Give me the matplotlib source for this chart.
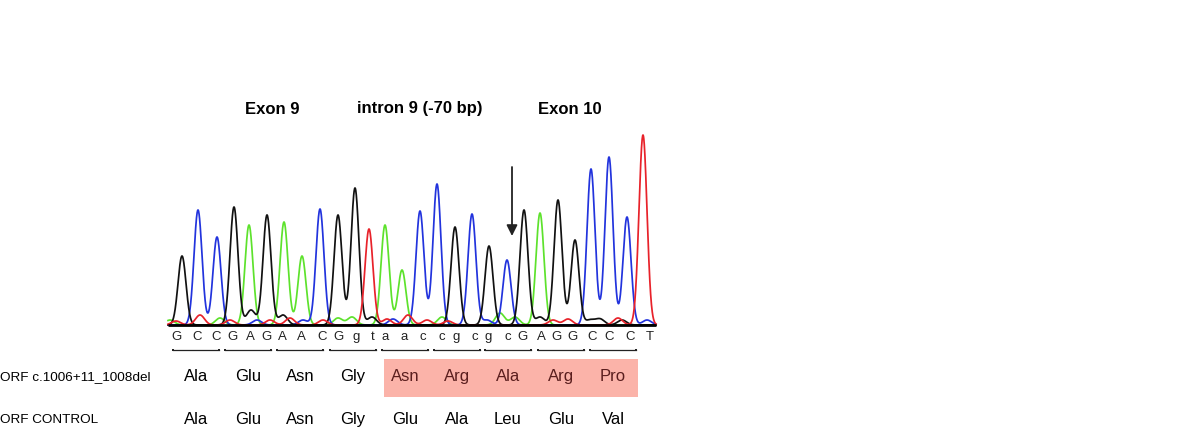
import numpy as np
import matplotlib
matplotlib.use("Agg")
import matplotlib.pyplot as plt
from matplotlib.patches import Rectangle

plt.rcParams['font.family'] = ['Liberation Sans', 'DejaVu Sans']

### chromatogram data (scan position, peak height) ###
bases = list("GCCGAGAACGgtaaccgcgcGAGGCCCT")
peak_pos = [182, 198, 217, 234, 249, 267, 284, 302, 320, 338, 355, 369, 385, 402,
            420, 437, 455, 472, 489, 507, 524, 540, 558, 575, 591, 609, 627, 643]
peak_h = [69, 115, 88, 118, 100, 110, 103, 69, 116, 110, 137, 96, 100, 55,
          114, 141, 98, 111, 79, 65, 115, 112, 125, 85, 156, 168, 108, 190]
# where the base letters sit under the trace
call_pos = [177, 197, 216, 233, 250, 267, 282, 301, 322, 338, 356, 373, 385, 404,
            423, 442, 456, 475, 488, 508, 523, 541, 556, 573, 592, 609, 630, 650]

# small background bumps: (base, position, height)
minor_peaks = [("T", 200, 10), ("A", 220, 7), ("T", 230, 5), ("G", 251, 15),
               ("C", 257, 5), ("T", 270, 5), ("G", 283, 10), ("T", 290, 7),
               ("C", 303, 5), ("T", 323, 5), ("A", 338, 7), ("A", 352, 8),
               ("G", 372, 8), ("T", 387, 6), ("C", 393, 6), ("T", 408, 10),
               ("T", 427, 5), ("A", 442, 8), ("T", 448, 4), ("C", 487, 5),
               ("A", 500, 12), ("A", 515, 8), ("G", 540, 8), ("T", 553, 5),
               ("T", 568, 6), ("G", 590, 5), ("G", 600, 6), ("T", 618, 7),
               ("G", 622, 5), ("C", 647, 5), ("A", 170, 5), ("T", 176, 4)]

# codon brackets (left edge in scan units)
codon_left = [173, 225, 277, 330, 382, 434, 485, 538, 590]
codon_width = 46

mutant_aa = ["Ala", "Glu", "Asn", "Gly", "Asn", "Arg", "Ala", "Arg", "Pro"]
control_aa = ["Ala", "Glu", "Asn", "Gly", "Glu", "Ala", "Leu", "Glu", "Val"]
region_labels = ["Exon 9", "intron 9 (-70 bp)", "Exon 10"]
region_x = [272, 420, 570]
arrow_x = 512

colors = {"G": "#111111", "C": "#2233dd", "A": "#5de22c", "T": "#e8222a"}
box_color = "#fbb3a9"
box_text = "#5a1e1e"

scan_start, scan_end = 168, 656

fig = plt.figure(figsize=(12, 4.31), dpi=100)
ax = fig.add_axes([0, 0, 1, 1])
ax.set_xlim(0, 1200)
ax.set_ylim(-105, 326)
ax.axis('off')

x = np.linspace(scan_start, scan_end, 3000)
for b in ["A", "C", "G", "T"]:
    y = np.zeros_like(x)
    for bb, p, h in zip(bases, peak_pos, peak_h):
        if bb.upper() == b:
            y += h * np.exp(-(x - p) ** 2 / (2 * 4.0 ** 2))
    for bb, p, h in minor_peaks:
        if bb == b:
            y += h * np.exp(-(x - p) ** 2 / (2 * 4.5 ** 2))
    ax.plot(x, y, color=colors[b], lw=1.25, zorder=2)

ax.hlines(0, scan_start, scan_end, color="black", lw=2, zorder=3)

# base calls
for b, p in zip(bases, call_pos):
    ax.text(p, -11, b, ha="center", va="center", fontsize=9.5, color="#222222")

# codon brackets and translations
mutated = [m != c for m, c in zip(mutant_aa, control_aa)]
for i in range(len(mutant_aa)):
    x0 = codon_left[i]
    x1 = x0 + codon_width
    ax.plot([x0, x1], [-25, -25], color="#222222", lw=0.9)
    ax.plot([x0, x1], [-25, -25], "s", color="#222222", ms=2, mew=0)
    xc = (x0 + x1) / 2
    ax.text(xc, -51, mutant_aa[i], ha="center", va="center", fontsize=12,
            color=box_text if mutated[i] else "black", zorder=4)
    ax.text(xc, -94, control_aa[i], ha="center", va="center", fontsize=12)

first_mut = mutated.index(True)
bx0 = codon_left[first_mut] + 2
bx1 = codon_left[-1] + codon_width + 2
ax.add_patch(Rectangle((bx0, -72), bx1 - bx0, 38, facecolor=box_color,
                       edgecolor="none", zorder=1))

ax.text(0, -51, "ORF c.1006+11_1008del", ha="left", va="center", fontsize=9.7)
ax.text(0, -94, "ORF CONTROL", ha="left", va="center", fontsize=9.7)

for lab, xc in zip(region_labels, region_x):
    ax.text(xc, 217, lab, ha="center", va="center", fontsize=12, fontweight="bold")

ax.annotate("", xy=(arrow_x, 89), xytext=(arrow_x, 158),
            arrowprops=dict(arrowstyle="-|>", color="#222222", lw=1.3,
                            mutation_scale=16, shrinkA=0, shrinkB=0))

fig.savefig("out.png", dpi=100)
